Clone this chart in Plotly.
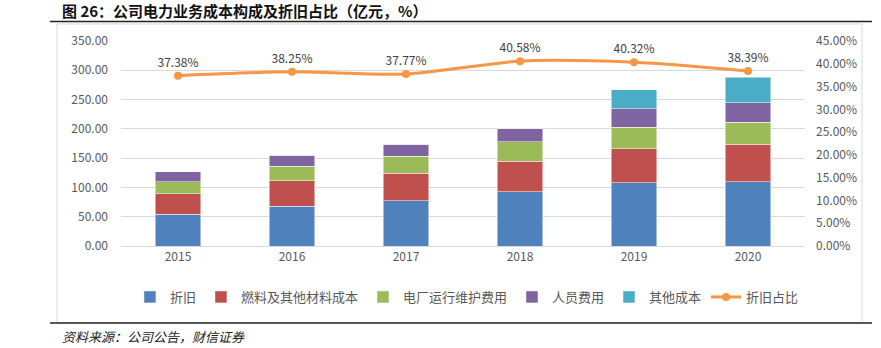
import plotly.graph_objects as go

years = ["2015", "2016", "2017", "2018", "2019", "2020"]
depreciation = [54.3, 68.0, 77.0, 93.0, 108.0, 109.6]
fuel = [34.7, 43.3, 47.0, 52.0, 57.7, 64.4]
maintenance = [20.6, 25.2, 29.0, 33.0, 37.0, 37.3]
staff = [17.1, 18.8, 20.6, 23.0, 31.3, 33.0]
other = [0, 0, 0, 0, 33.0, 44.0]
dep_ratio = [37.38, 38.25, 37.77, 40.58, 40.32, 38.39]

left_ticks = [0, 50, 100, 150, 200, 250, 300, 350]
right_ticks = [0, 5, 10, 15, 20, 25, 30, 35, 40, 45]

W, H = 881, 348
L, R, T, B = 121, 76, 41, 102.3
pw, ph = W - L - R, H - T - B

def px(x):
    return (x - L) / pw

def py(y):
    return (H - B - y) / ph

font_main = "Noto Sans CJK SC"
gray = "#595959"

fig = go.Figure()
series = [
    ("折旧", depreciation, "#4F81BD"),
    ("燃料及其他材料成本", fuel, "#C0504D"),
    ("电厂运行维护费用", maintenance, "#9BBB59"),
    ("人员费用", staff, "#8064A2"),
    ("其他成本", other, "#4BACC6"),
]
for name, vals, col in series:
    fig.add_trace(go.Bar(
        x=years, y=vals, name=name, marker=dict(color=col, line=dict(width=0.8, color="rgba(255,255,255,0.6)")),
        yaxis="y",
    ))

fig.add_trace(go.Scatter(
    x=years, y=dep_ratio, name="折旧占比", yaxis="y2",
    mode="lines+markers+text",
    line=dict(color="#F79646", width=3, shape="spline", smoothing=0.8),
    marker=dict(color="#F79646", size=8),
    text=[f"{v:.2f}%" for v in dep_ratio],
    textposition="top center",
    textfont=dict(size=12, color="#404040", family=font_main),
))

fig.update_layout(
    width=W, height=H,
    margin=dict(l=L, r=R, t=T, b=B, autoexpand=False),
    paper_bgcolor="white", plot_bgcolor="white",
    barmode="stack", bargap=0.6,
    font=dict(family=font_main, color=gray, size=12),
    showlegend=True,
    legend=dict(orientation="h", xref="container", yref="container", x=0.53, xanchor="center",
                y=(H - 297) / H, yanchor="middle",
                font=dict(size=13, color=gray), tracegroupgap=0,
                traceorder="normal"),
    xaxis=dict(type="category", showgrid=False, showline=True, linecolor="#D9D9D9",
               ticks="", tickfont=dict(size=12, color=gray), fixedrange=True),
    yaxis=dict(range=[0, 350], tickvals=left_ticks, ticktext=[f"{v:.2f}" for v in left_ticks],
               showgrid=True, gridcolor="#D9D9D9", gridwidth=1, zeroline=False,
               tickfont=dict(size=12, color=gray), ticks="", ticklabelstandoff=12),
    yaxis2=dict(range=[0, 45], tickvals=right_ticks, ticktext=[f"{v:.2f}%" for v in right_ticks],
                overlaying="y", side="right", showgrid=False, zeroline=False,
                tickfont=dict(size=12, color=gray), ticks="", ticklabelstandoff=10),
    shapes=[
        dict(type="rect", xref="paper", yref="paper", x0=px(57), x1=px(862), y0=py(322), y1=py(24),
             line=dict(color="#D9D9D9", width=1), layer="below"),
        dict(type="line", xref="paper", yref="paper", x0=px(50), x1=px(872), y0=py(21.5), y1=py(21.5),
             line=dict(color="#222222", width=1.5)),
        dict(type="line", xref="paper", yref="paper", x0=px(50), x1=px(872), y0=py(322.5), y1=py(322.5),
             line=dict(color="#222222", width=1.5)),
    ],
    annotations=[
        dict(text="<b>图 26：公司电力业务成本构成及折旧占比（亿元，%）</b>", xref="paper", yref="paper",
             x=px(60), y=py(10.5), xanchor="left", yanchor="middle", showarrow=False,
             font=dict(size=15, color="#111111", family=font_main)),
        dict(text="<i>资料来源：公司公告，财信证券</i>", xref="paper", yref="paper",
             x=px(60), y=py(336), xanchor="left", yanchor="middle", showarrow=False,
             font=dict(size=13, color="#222222", family=font_main)),
    ],
)

fig.write_html("out.html")
